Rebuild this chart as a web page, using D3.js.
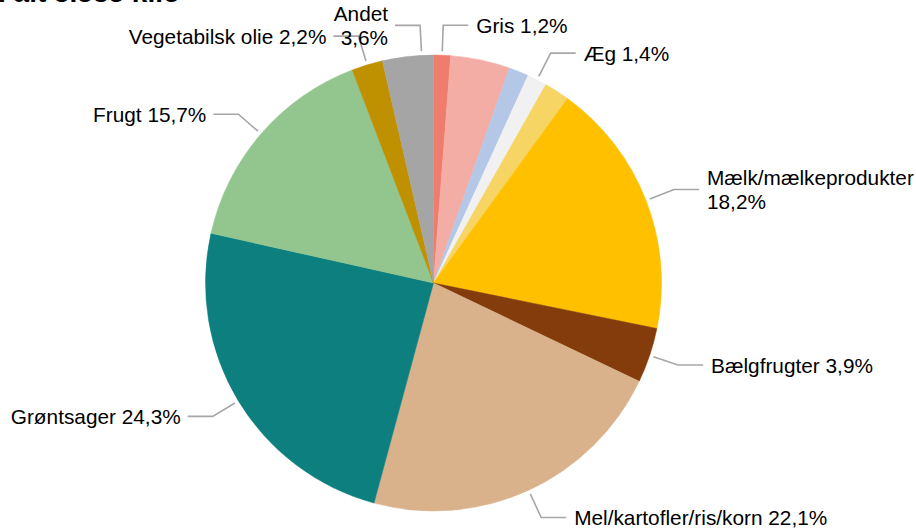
<!DOCTYPE html>
<html>
<head>
<meta charset="utf-8">
<script src="https://cdn.jsdelivr.net/npm/d3@7"></script>
<style>
  html, body { margin: 0; padding: 0; background: #fff; }
  svg { display: block; }
  text { font-family: "Liberation Sans", Arial, sans-serif; fill: #000; }
</style>
</head>
<body>
<div id="chart"></div>
<script>
// ---- data ----
const categories = ["Gris", "Okse/kalv", "Fisk", "Æg", "Ost", "Mælk/mælkeprodukter", "Bælgfrugter",
  "Mel/kartofler/ris/korn", "Grøntsager", "Frugt", "Vegetabilsk olie", "Andet"];
const values = [1.2, 4.2, 1.4, 1.4, 1.8, 18.2, 3.9, 22.1, 24.3, 15.7, 2.2, 3.6];
const colors = ["#EF7D6D", "#F4ADA4", "#B4C7E7", "#F1F1F1", "#F6D565", "#FFC000", "#843C0C",
  "#D9B28B", "#0D7F7E", "#93C68F", "#BF9000", "#A5A5A5"];
const showLabel = [true, false, false, true, false, true, true, true, true, true, true, true];
const twoLineLabel = ["Mælk/mælkeprodukter", "Andet"];
const titleText = "I alt 5.535 kilo";

// ---- layout ----
const W = 916, H = 528;
const cx = 433.5, cy = 283, R = 228;
const fontSize = 20.8, lineH = 24.3;
const anchorShift = { "Andet": 3.5 * Math.PI / 180 };

const svg = d3.select("#chart").append("svg").attr("width", W).attr("height", H);

svg.append("text")
  .attr("x", -2).attr("y", 2)
  .style("font-size", "28px").style("font-weight", "bold")
  .text(titleText);

const data = categories.map((c, i) => ({ name: c, value: values[i], color: colors[i], show: showLabel[i] }));

const pie = d3.pie().sort(null).value(d => d.value).startAngle(0).endAngle(2 * Math.PI);
const arcs = pie(data);
const arc = d3.arc().innerRadius(0).outerRadius(R);

const g = svg.append("g").attr("transform", `translate(${cx},${cy})`);
g.selectAll("path.slice").data(arcs).enter().append("path")
  .attr("class", "slice")
  .attr("d", arc)
  .attr("fill", d => d.data.color)
  .attr("stroke", d => d.data.color)
  .attr("stroke-width", 0.5);

const fmt = v => String(v.toFixed(1)).replace(".", ",") + "%";

const labels = g.append("g");
arcs.filter(d => d.data.show).forEach(d => {
  const a = (d.startAngle + d.endAngle) / 2 + (anchorShift[d.data.name] || 0);
  const sx = Math.sin(a), sy = -Math.cos(a);
  const p0 = [sx * (R + 4), sy * (R + 4)];
  const p1 = [sx * (R + 30), sy * (R + 30)];
  const right = p1[0] >= 0;
  const p2 = [p1[0] + (right ? 25 : -25), p1[1]];
  labels.append("path")
    .attr("d", d3.line()([p0, p1, p2]))
    .attr("fill", "none").attr("stroke", "#A6A6A6").attr("stroke-width", 1.6);
  const lines = twoLineLabel.includes(d.data.name)
    ? [d.data.name, fmt(d.data.value)]
    : [d.data.name + " " + fmt(d.data.value)];
  const t = labels.append("text")
    .attr("text-anchor", right ? "start" : "end")
    .style("font-size", fontSize + "px");
  const tx = p2[0] + (right ? 8 : -7);
  const y0 = p2[1] - (lines.length - 1) * lineH / 2 + fontSize * 0.36;
  lines.forEach((ln, i) => {
    t.append("tspan").attr("x", tx).attr("y", y0 + i * lineH).text(ln);
  });
});
</script>
</body>
</html>
